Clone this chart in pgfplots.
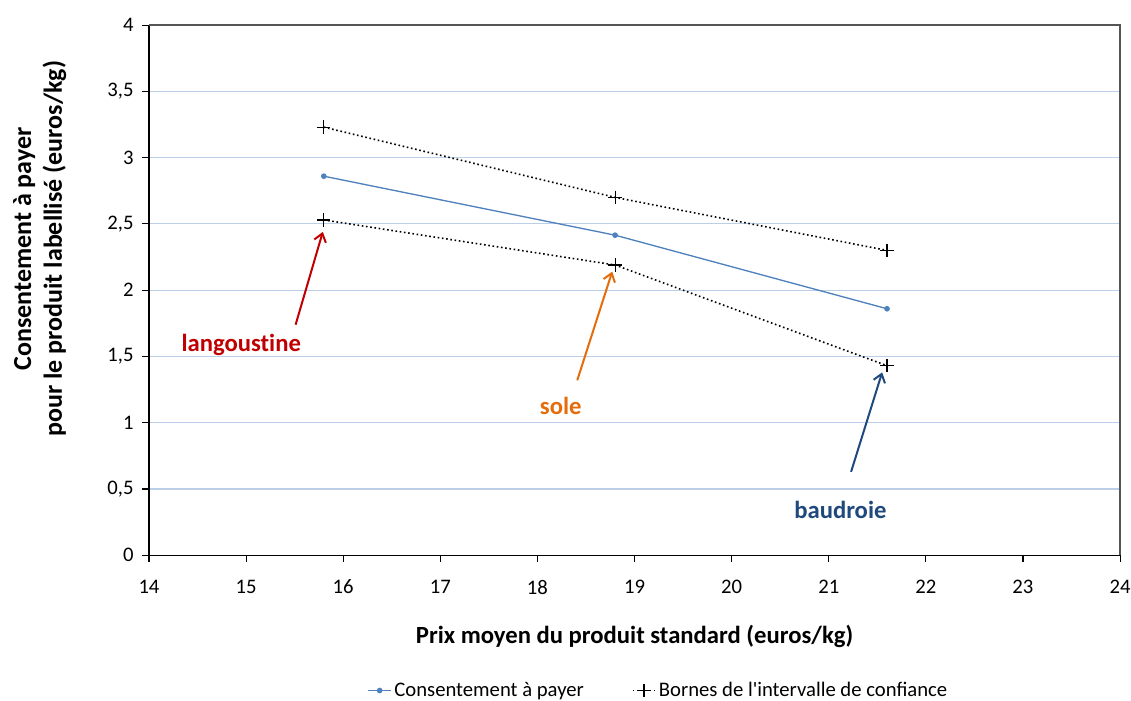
\documentclass[border=0pt]{standalone}
\usepackage{pgfplots}
\pgfplotsset{compat=1.18}
\usepackage{fontspec}
\setmainfont{Carlito}
\usetikzlibrary{arrows.meta}
\definecolor{gridblue}{RGB}{188,207,232}
\definecolor{lineblue}{RGB}{79,129,189}
\definecolor{langred}{RGB}{192,0,0}
\definecolor{soleorange}{RGB}{228,108,10}
\definecolor{baudblue}{RGB}{31,73,125}
\definecolor{framegray}{RGB}{85,85,85}
\begin{document}
\begin{tikzpicture}
\path[use as bounding box] (-111.7pt,-108.8pt) rectangle (736.2pt,416.3pt);
\begin{axis}[
  scale only axis,
  width=728pt, height=397.5pt,
  xmin=14, xmax=24, ymin=0, ymax=4,
  xtick={14,15,...,24},
  ytick={0,0.5,...,4},
  /pgf/number format/.cd, use comma, assume math mode=true,
  /pgfplots/.cd,
  yticklabel style={/pgf/number format/fixed},
  tick label style={font=\fontsize{15.5}{18}\selectfont},
  ymajorgrids, grid style={gridblue, line width=0.8pt},
  axis line style={draw=none},
  tick style={black, line width=0.8pt},
  tick align=outside,
  major tick length=5pt,
  xtick pos=bottom, ytick pos=left,
  xticklabel style={yshift=-10pt},
  yticklabel style={xshift=-3pt},
  xlabel={\textbf{Prix moyen du produit standard (euros/kg)}},
  xlabel style={font=\fontsize{18.5}{22}\selectfont, yshift=-16pt},
  ylabel={\textbf{Consentement à payer}\\\textbf{pour le produit labellisé (euros/kg)}},
  ylabel style={font=\fontsize{19.5}{23}\selectfont, align=center, yshift=24pt, xshift=31pt},
  clip=false,
  legend style={at={(0.525,-0.255)}, anchor=center, draw=none, fill=none,
    legend columns=2, font=\fontsize{15.5}{18}\selectfont,
    /tikz/every even column/.append style={column sep=34pt}},
  legend cell align=left,
]
\addplot[lineblue, line width=1pt, mark=*, mark size=1.6pt, mark options={solid, fill=lineblue}]
  coordinates {(15.8,2.86) (18.8,2.415) (21.6,1.86)};
\addlegendentry{Consentement à payer}
\addplot[black, dotted, line width=1.2pt, mark=+, mark size=5pt, mark options={solid, line width=0.9pt}]
  coordinates {(15.8,3.23) (18.8,2.70) (21.6,2.30)};
\addlegendentry{Bornes de l\textquotesingle intervalle de confiance}
\addplot[black, dotted, line width=1.2pt, mark=+, mark size=5pt, mark options={solid, line width=0.9pt}, forget plot]
  coordinates {(15.8,2.53) (18.8,2.19) (21.6,1.43)};
% frame
\draw[black, line width=1pt] (rel axis cs:0,1) -- (rel axis cs:0,0) -- (rel axis cs:1,0);
\draw[framegray, line width=1.6pt] (rel axis cs:0,1) -- (rel axis cs:1,1) -- (rel axis cs:1,0);
% annotations
\draw[langred, line width=1.5pt, -{Straight Barb[length=6pt,width=9pt]}] (axis cs:15.51,1.74) -- (axis cs:15.79,2.44);
\draw[soleorange, line width=1.5pt, -{Straight Barb[length=6pt,width=9pt]}] (axis cs:18.41,1.32) -- (axis cs:18.77,2.14);
\draw[baudblue, line width=1.5pt, -{Straight Barb[length=6pt,width=9pt]}] (axis cs:21.23,0.63) -- (axis cs:21.55,1.38);
\node[langred, font=\fontsize{18.5}{21}\selectfont\bfseries] at (axis cs:14.95,1.59) {langoust\kern0pt ine};
\node[soleorange, font=\fontsize{18.5}{21}\selectfont\bfseries] at (axis cs:18.24,1.13) {sole};
\node[baudblue, font=\fontsize{18.5}{21}\selectfont\bfseries] at (axis cs:21.12,0.34) {baudroie};
\end{axis}
\end{tikzpicture}
\end{document}
